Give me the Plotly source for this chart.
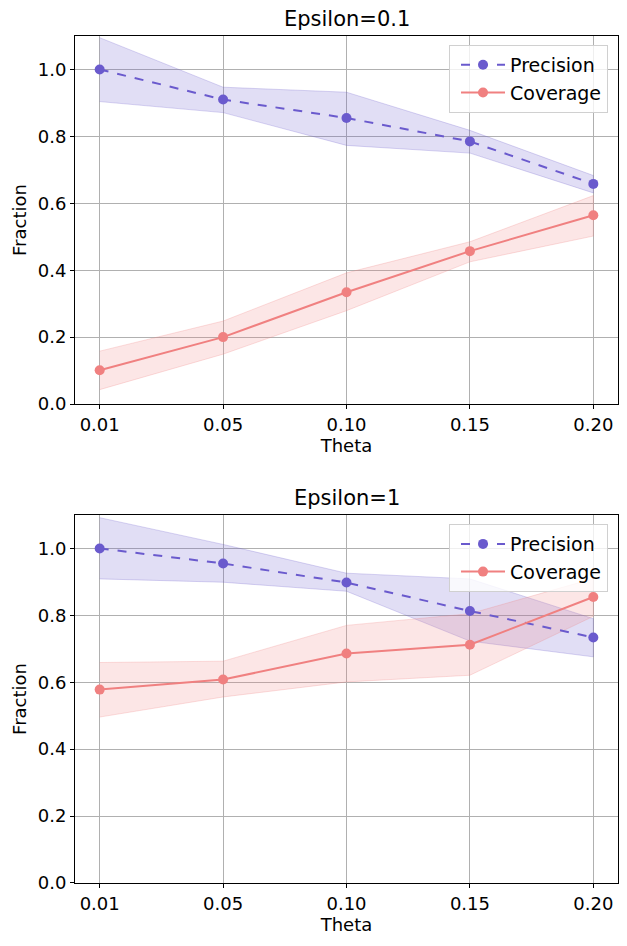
import plotly.graph_objects as go

theta_labels = ["0.01", "0.05", "0.10", "0.15", "0.20"]

# Epsilon = 0.1
prec1 = [1.0, 0.91, 0.855, 0.785, 0.658]
prec1_hi = [1.095, 0.947, 0.932, 0.818, 0.683]
prec1_lo = [0.904, 0.871, 0.773, 0.750, 0.631]
cov1 = [0.101, 0.200, 0.334, 0.457, 0.564]
cov1_hi = [0.158, 0.248, 0.392, 0.485, 0.623]
cov1_lo = [0.043, 0.149, 0.279, 0.425, 0.502]

# Epsilon = 1
prec2 = [1.0, 0.955, 0.898, 0.813, 0.734]
prec2_hi = [1.092, 1.012, 0.926, 0.909, 0.790]
prec2_lo = [0.909, 0.899, 0.872, 0.723, 0.676]
cov2 = [0.578, 0.608, 0.686, 0.712, 0.855]
cov2_hi = [0.659, 0.663, 0.770, 0.805, 0.910]
cov2_lo = [0.496, 0.556, 0.601, 0.621, 0.797]

titles = ["Epsilon=0.1", "Epsilon=1"]
yticks = [0.0, 0.2, 0.4, 0.6, 0.8, 1.0]

PREC = "#6A5ACD"
COV = "#F08080"
PREC_FILL = "rgba(106,90,205,0.2)"
COV_FILL = "rgba(240,128,128,0.2)"
PREC_EDGE = "rgba(106,90,205,0.25)"
COV_EDGE = "rgba(240,128,128,0.25)"

fig = go.Figure()
FONT = "DejaVu Sans"

panels = [
    (prec1, prec1_hi, prec1_lo, cov1, cov1_hi, cov1_lo),
    (prec2, prec2_hi, prec2_lo, cov2, cov2_hi, cov2_lo),
]

for i, (p, ph, pl, c, ch, cl) in enumerate(panels):
    xa = "x" if i == 0 else "x2"
    ya = "y" if i == 0 else "y2"
    leg = "legend" if i == 0 else "legend2"
    xs = theta_labels + theta_labels[::-1]
    fig.add_trace(go.Scatter(x=xs, y=ph + pl[::-1], fill="toself", fillcolor=PREC_FILL,
                             line=dict(color=PREC_EDGE, width=1), mode="lines",
                             showlegend=False, hoverinfo="skip", xaxis=xa, yaxis=ya))
    fig.add_trace(go.Scatter(x=xs, y=ch + cl[::-1], fill="toself", fillcolor=COV_FILL,
                             line=dict(color=COV_EDGE, width=1), mode="lines",
                             showlegend=False, hoverinfo="skip", xaxis=xa, yaxis=ya))
    fig.add_trace(go.Scatter(x=theta_labels, y=p, mode="lines+markers", name="Precision",
                             line=dict(color=PREC, width=2, dash="dash"),
                             marker=dict(color=PREC, size=10), xaxis=xa, yaxis=ya, legend=leg))
    fig.add_trace(go.Scatter(x=theta_labels, y=c, mode="lines+markers", name="Coverage",
                             line=dict(color=COV, width=2),
                             marker=dict(color=COV, size=10), xaxis=xa, yaxis=ya, legend=leg))

axis_common = dict(showline=True, mirror=True, linecolor="black", linewidth=1,
                   ticks="outside", ticklen=4, tickcolor="black",
                   showgrid=True, gridcolor="#b0b0b0", gridwidth=1,
                   tickfont=dict(size=18, color="black", family=FONT), zeroline=False)

top_dom = [0.5655, 1.0]
bot_dom = [0.0, 0.4345]

legend_common = dict(xanchor="right", yanchor="top", bgcolor="rgba(255,255,255,0.8)",
                     bordercolor="#d0d0d0", borderwidth=1, itemwidth=44, indentation=6,
                     font=dict(size=19, family=FONT), xref="paper", yref="paper")

fig.update_layout(
    width=619, height=938,
    margin=dict(l=67, r=9, t=28, b=63),
    plot_bgcolor="white", paper_bgcolor="white",
    font=dict(family=FONT, color="black"),
    xaxis=dict(axis_common, type="category", range=[-0.2, 4.2], anchor="y",
               title=dict(text="Theta", font=dict(size=18), standoff=2)),
    yaxis=dict(axis_common, domain=top_dom, range=[0, 1.1], tickvals=yticks,
               tickformat=".1f", anchor="x",
               title=dict(text="Fraction", font=dict(size=18), standoff=6)),
    xaxis2=dict(axis_common, type="category", range=[-0.2, 4.2], anchor="y2",
                title=dict(text="Theta", font=dict(size=18), standoff=2)),
    yaxis2=dict(axis_common, domain=bot_dom, range=[0, 1.1], tickvals=yticks,
                tickformat=".1f", anchor="x2",
                title=dict(text="Fraction", font=dict(size=18), standoff=6)),
    legend=dict(legend_common, x=0.9816, y=0.9894),
    legend2=dict(legend_common, x=0.9816, y=0.4238),
    annotations=[
        dict(text=titles[0], x=0.5, y=1.0, xref="paper", yref="paper", yanchor="bottom",
             yshift=3, showarrow=False, font=dict(size=21, family=FONT)),
        dict(text=titles[1], x=0.5, y=0.4345, xref="paper", yref="paper", yanchor="bottom",
             yshift=3, showarrow=False, font=dict(size=21, family=FONT)),
    ],
)

fig.write_html("out.html")
